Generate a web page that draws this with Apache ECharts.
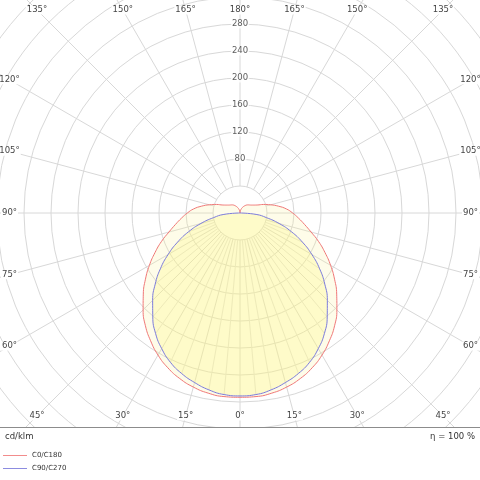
<!DOCTYPE html>
<html>
<head>
<meta charset="utf-8">
<script src="https://cdn.jsdelivr.net/npm/echarts@6/dist/echarts.min.js"></script>
<style>
html,body{margin:0;padding:0;background:#fff;}
#chart{width:480px;height:480px;}
</style>
</head>
<body>
<div id="chart"></div>
<script>
// gamma angles (deg from nadir), 5° steps
const angles = [0,5,10,15,20,25,30,35,40,45,50,55,60,65,70,75,80,85,90,95,100,105,110,115,120,125,130,135,140,145,150,155,160,165,170,175,180];
// C0/C180 intensity (cd/klm)
const c0 = [273,273,271,267,261,253,243,231,218,203,187,171,155,139,124,109,97,87,78,69,58,47,37,28,23.5,20.5,18.5,17,15.5,13.5,11.5,9.5,7.5,5.5,3.5,1.5,0];
// C90/C270 intensity (cd/klm), gamma 0..90
const c90 = [271,270,266,260,253,244,232,218,201,183,164,144,123,102,81,60,40,24,0];
// ring tick labels
const ringLabels = [80,120,160,200,240,280];
// angle tick labels
const angleTicks = [0,15,30,45,60,75,90,105,120,135,150,165,180];
const seriesNames = ['C0/C180','C90/C270'];

const cx = 240, cy = 213, R = 324, rMax = 480, rInner = 40;
const gridColor = '#d8d8d8';
const seamColor = '#e2e2e2';
const FONT = '"DejaVu Sans", Verdana, sans-serif';

// mirror the half-planes into full polar data [radius, angle]
function mirror(vals) {
  const out = [];
  for (let i = vals.length - 1; i >= 0; i--) out.push([vals[i], -angles[i]]);
  for (let i = 1; i < vals.length; i++) out.push([vals[i], angles[i]]);
  return out;
}
const redData = mirror(c0);
const blueData = mirror(c90);

// 15° rays
const rayAngles = [];
for (let a = -165; a <= 180; a += 15) rayAngles.push(a);

// fine seams (every 5°) inside the inner fill
const seamItems = [];
c90.forEach((v, i) => {
  const g = angles[i];
  if (g % 15 !== 0 && v > rInner) {
    seamItems.push([v, g]);
    seamItems.push([v, -g]);
  }
});

// angle labels placed where the rays meet the frame
const xL = 9.5, xR = 470.5, yT = 10, yB = 416;
const graphics = [];
angleTicks.forEach(g => {
  const sides = (g === 0 || g === 180) ? [1] : [-1, 1];
  sides.forEach(s => {
    const rad = g * Math.PI / 180;
    const dx = s * Math.sin(rad), dy = Math.cos(rad);
    let t = Infinity;
    if (dx < -1e-9) t = Math.min(t, (cx - xL) / -dx);
    if (dx > 1e-9) t = Math.min(t, (xR - cx) / dx);
    if (dy > 1e-9) t = Math.min(t, (yB - cy) / dy);
    if (dy < -1e-9) t = Math.min(t, (cy - yT) / -dy);
    graphics.push({
      type: 'text', z: 50,
      x: cx + dx * t, y: cy + dy * t,
      style: {
        text: g + '°', fill: '#444', font: '8.5px ' + FONT,
        align: 'center', verticalAlign: 'middle',
        backgroundColor: '#fff', padding: [0, 1]
      }
    });
  });
});
// bottom panel
graphics.push({type:'rect', z: 100, shape:{x:0, y:428, width:480, height:52}, style:{fill:'#fff'}});
graphics.push({type:'line', z: 101, shape:{x1:0, y1:427.5, x2:480, y2:427.5}, style:{stroke:'#8c8c8c', lineWidth:1}});
graphics.push({type:'text', z: 101, x: 5, y: 437, style:{text:'cd/klm', fill:'#333', font:'8.5px ' + FONT, align:'left', verticalAlign:'middle'}});
graphics.push({type:'text', z: 101, x: 475, y: 437, style:{text:'η = 100 %', fill:'#333', font:'8.5px ' + FONT, align:'right', verticalAlign:'middle'}});

const chart = echarts.init(document.getElementById('chart'), null, {renderer: 'canvas'});
chart.setOption({
  animation: false,
  backgroundColor: '#fff',
  polar: { center: [cx, cy], radius: R },
  angleAxis: {
    type: 'value', min: -180, max: 180, startAngle: 90, clockwise: true,
    axisLine: {show: false}, axisTick: {show: false}, axisLabel: {show: false}, splitLine: {show: false}
  },
  radiusAxis: {
    type: 'value', min: 0, max: rMax, interval: 40,
    axisLine: {show: false}, axisTick: {show: false}, axisLabel: {show: false},
    splitLine: {show: true, lineStyle: {color: gridColor, width: 1}}
  },
  legend: {
    data: seriesNames, orient: 'vertical', left: 3, top: 451, z: 110,
    padding: 0, itemGap: 4, itemWidth: 24, itemHeight: 1, icon: 'rect',
    textStyle: {fontSize: 7, color: '#333', fontFamily: FONT, lineHeight: 9},
    selectedMode: false
  },
  graphic: {elements: graphics},
  series: [
    {
      type: 'custom', coordinateSystem: 'polar', z: 1, silent: true,
      data: [[0, 0]],
      renderItem: (params, api) => {
        const children = [];
        rayAngles.forEach(a => {
          const p1 = api.coord([rInner, a]);
          const p2 = api.coord([rMax, a]);
          children.push({type: 'line', shape: {x1: p1[0], y1: p1[1], x2: p2[0], y2: p2[1]}, style: {stroke: gridColor, lineWidth: 1}});
        });
        return {type: 'group', children};
      }
    },
    {
      type: 'custom', coordinateSystem: 'polar', z: 1, silent: true,
      data: seamItems,
      renderItem: (params, api) => {
        const r = api.value(0), a = api.value(1);
        const p1 = api.coord([rInner, a]);
        const p2 = api.coord([r, a]);
        return {type: 'line', shape: {x1: p1[0], y1: p1[1], x2: p2[0], y2: p2[1]}, style: {stroke: seamColor, lineWidth: 1}};
      }
    },
    {
      name: seriesNames[0], type: 'line', coordinateSystem: 'polar', z: 2,
      data: redData, symbol: 'none', smooth: 0.5, silent: true,
      lineStyle: {color: '#f07878', width: 1},
      itemStyle: {color: '#f28c8c'},
      areaStyle: {color: 'rgba(250,240,150,0.3)'}
    },
    {
      name: seriesNames[1], type: 'line', coordinateSystem: 'polar', z: 3,
      data: blueData, symbol: 'none', smooth: 0.5, silent: true,
      lineStyle: {color: '#7b7bdc', width: 1},
      itemStyle: {color: '#8c8ce0'},
      areaStyle: {color: 'rgba(255,248,120,0.4)'}
    },
    {
      type: 'scatter', coordinateSystem: 'polar', z: 6, silent: true,
      data: ringLabels.map(v => [v, 180]),
      symbolSize: 1, itemStyle: {color: 'rgba(0,0,0,0)'},
      label: {
        show: true, position: 'inside', formatter: p => String(p.value[0]),
        color: '#333', fontSize: 8.5, fontFamily: FONT,
        backgroundColor: '#fff', padding: [0, 1]
      }
    }
  ]
});
</script>
</body>
</html>
